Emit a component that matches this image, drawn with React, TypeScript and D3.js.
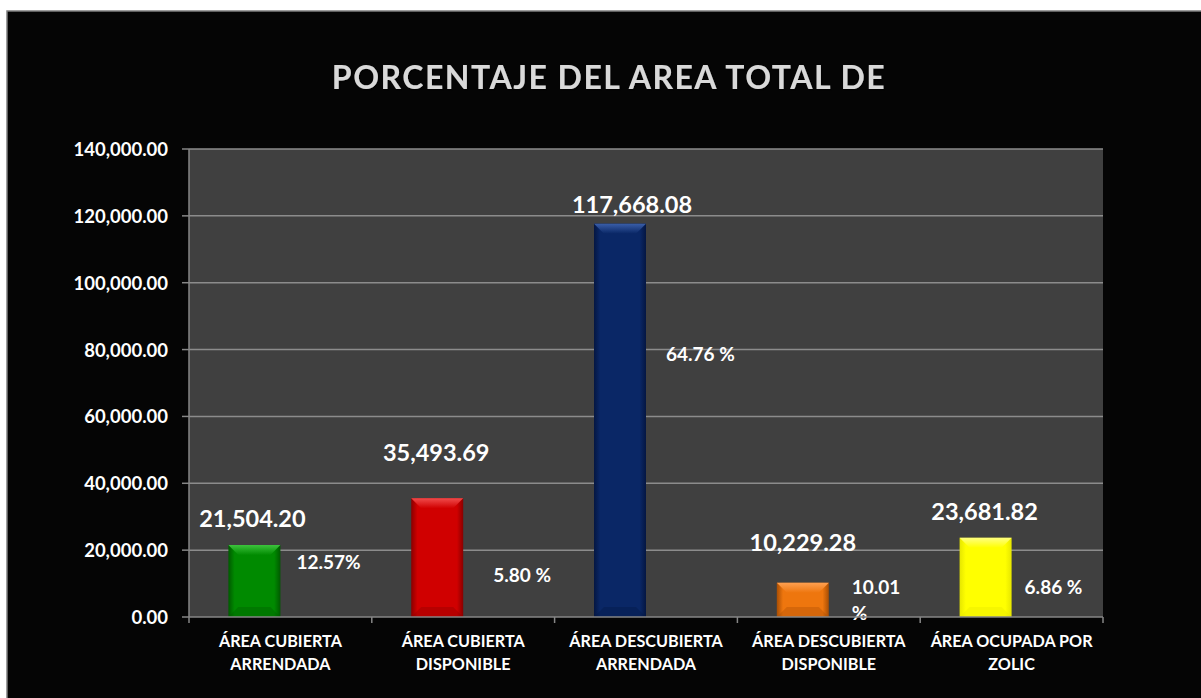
import React from "react";
import * as d3 from "d3";

const categories: string[][] = [
  ["ÁREA CUBIERTA", "ARRENDADA"],
  ["ÁREA CUBIERTA", "DISPONIBLE"],
  ["ÁREA DESCUBIERTA", "ARRENDADA"],
  ["ÁREA DESCUBIERTA", "DISPONIBLE"],
  ["ÁREA OCUPADA POR", "ZOLIC"],
];
const values: number[] = [21504.2, 35493.69, 117668.08, 10229.28, 23681.82];
const percentLabels: string[][] = [["12.57%"], ["5.80 %"], ["64.76 %"], ["10.01", "%"], ["6.86 %"]];
const yTicks: number[] = [0, 20000, 40000, 60000, 80000, 100000, 120000, 140000];
const title = "PORCENTAJE DEL AREA TOTAL DE";

// bar colours: [base, light, dark]
const barColors: string[][] = [
  ["#008a00", "#3cc23c", "#005a00"],
  ["#d00000", "#f04a4a", "#8a0000"],
  ["#0a2766", "#3a5ea8", "#041642"],
  ["#ee760e", "#ffa050", "#a84e04"],
  ["#ffff00", "#ffff80", "#e6e600"],
];

// label layout (pixel offsets as in the reference)
const valueLabelLift = [27, 46, 20, 41, 27];
const valueLabelShift = [-2, -1, 12, 0, -1];
const pctLabelDx = [16, 30, 20, 23, 13];
const pctLabelRise = [56, 43, 264, 31, 31];

const W = 1201;
const H = 698;
const M = { left: 189, right: 1103, top: 149, bottom: 617 };
const FONT = "Lato, 'Open Sans', sans-serif";

export default function App() {
  const x = d3
    .scaleBand<number>()
    .domain(d3.range(categories.length))
    .range([M.left, M.right])
    .paddingInner(0)
    .paddingOuter(0);
  const y = d3.scaleLinear().domain([0, 140000]).range([M.bottom, M.top]);
  const bw = 52;
  const fmt = d3.format(",.2f");
  const bev = 10;

  return (
    <svg width={W} height={H} style={{ position: "absolute", left: 0, top: 0, background: "#fff" }}>
      <defs>
        {barColors.map((c, i) => (
          <linearGradient key={i} id={`hg${i}`} x1="0" x2="1" y1="0" y2="0">
            <stop offset="0" stopColor={c[2]} />
            <stop offset="0.12" stopColor={c[0]} />
            <stop offset="0.88" stopColor={c[0]} />
            <stop offset="1" stopColor={c[2]} />
          </linearGradient>
        ))}
        {barColors.map((c, i) => (
          <linearGradient key={"t" + i} id={`tg${i}`} x1="0" x2="0" y1="0" y2="1">
            <stop offset="0" stopColor={c[1]} />
            <stop offset="1" stopColor={c[0]} />
          </linearGradient>
        ))}
        <filter id="glow" x="-10%" y="-30%" width="120%" height="160%">
          <feGaussianBlur in="SourceAlpha" stdDeviation="1.2" />
          <feOffset dx="1" dy="1" result="b" />
          <feFlood floodColor="#000" floodOpacity="0.8" />
          <feComposite in2="b" operator="in" />
          <feMerge>
            <feMergeNode />
            <feMergeNode in="SourceGraphic" />
          </feMerge>
        </filter>
      </defs>
      <rect x={7} y={11} width={W} height={H} fill="#050505" stroke="#7f7f7f" strokeWidth={1.5} />
      <text
        x={609}
        y={76}
        textAnchor="middle"
        dominantBaseline="central"
        fill="#d9d9d9"
        fontFamily={FONT}
        fontWeight={700}
        fontSize={32}
        letterSpacing={1.5}
        filter="url(#glow)"
      >
        {title}
      </text>
      <rect x={M.left} y={M.top} width={M.right - M.left} height={M.bottom - M.top} fill="#404040" />
      {yTicks.map((t) => (
        <g key={t}>
          {t > 0 && <line x1={M.left} x2={M.right} y1={y(t)} y2={y(t)} stroke="#8c8c8c" strokeWidth={1.5} />}
          <line x1={M.left - 7} x2={M.left} y1={y(t)} y2={y(t)} stroke="#868686" strokeWidth={1.5} />
          <text
            x={168}
            y={y(t)}
            textAnchor="end"
            dominantBaseline="central"
            fill="#fff"
            fontFamily={FONT}
            fontWeight={700}
            fontSize={18.5}
          >
            {fmt(t)}
          </text>
        </g>
      ))}
      {values.map((v, i) => {
        const x0 = (x(i) as number) + x.bandwidth() / 2 - bw;
        const y0 = y(v);
        const y1 = y(0);
        const h = y1 - y0;
        const b = Math.min(bev, h / 2);
        const c = barColors[i];
        return (
          <g key={i}>
            <rect x={x0} y={y0} width={bw} height={h} fill={`url(#hg${i})`} />
            <polygon
              points={`${x0},${y0} ${x0 + bw},${y0} ${x0 + bw - b},${y0 + b} ${x0 + b},${y0 + b}`}
              fill={`url(#tg${i})`}
            />
            <polygon
              points={`${x0},${y1} ${x0 + bw},${y1} ${x0 + bw - b},${y1 - b} ${x0 + b},${y1 - b}`}
              fill={c[2]}
              opacity={0.35}
            />
            <text
              x={x0 + bw / 2 + valueLabelShift[i]}
              y={y0 - valueLabelLift[i]}
              textAnchor="middle"
              dominantBaseline="central"
              fill="#fff"
              fontFamily={FONT}
              fontWeight={700}
              fontSize={23.5}
            >
              {fmt(v)}
            </text>
            {percentLabels[i].map((s, k) => (
              <text
                key={k}
                x={x0 + bw + pctLabelDx[i]}
                y={y1 - pctLabelRise[i] + k * 26}
                dominantBaseline="central"
                fill="#fff"
                fontFamily={FONT}
                fontWeight={700}
                fontSize={19}
              >
                {s}
              </text>
            ))}
          </g>
        );
      })}
      <line x1={M.left} x2={M.left} y1={M.top} y2={M.bottom} stroke="#868686" strokeWidth={1.5} />
      <line x1={M.left} x2={M.right} y1={M.bottom} y2={M.bottom} stroke="#868686" strokeWidth={1.5} />
      {d3.range(categories.length + 1).map((i) => {
        const xx = M.left + i * x.bandwidth();
        return <line key={i} x1={xx} x2={xx} y1={M.bottom} y2={M.bottom + 6} stroke="#868686" strokeWidth={1.5} />;
      })}
      {categories.map((lines, i) => (
        <text
          key={i}
          x={(x(i) as number) + x.bandwidth() / 2}
          textAnchor="middle"
          fill="#fff"
          fontFamily={FONT}
          fontWeight={700}
          fontSize={16.2}
        >
          {lines.map((l, k) => (
            <tspan key={k} x={(x(i) as number) + x.bandwidth() / 2} y={640 + k * 23} dominantBaseline="central">
              {l}
            </tspan>
          ))}
        </text>
      ))}
    </svg>
  );
}
